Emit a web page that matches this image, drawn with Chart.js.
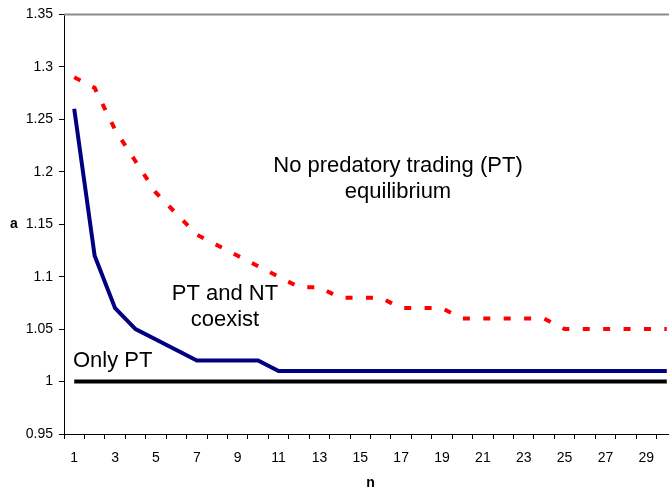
<!DOCTYPE html>
<html>
<head>
<meta charset="utf-8">
<script src="https://cdn.jsdelivr.net/npm/chart.js@4/dist/chart.umd.min.js"></script>
<style>
html, body { margin: 0; padding: 0; background: #fff; overflow: hidden; }
#wrap { width: 679px; height: 504px; }
canvas { display: block; }
</style>
</head>
<body>
<div id="wrap"><canvas id="c" width="679" height="504"></canvas></div>
<script>
// ---- data ----
const categories = [1,2,3,4,5,6,7,8,9,10,11,12,13,14,15,16,17,18,19,20,21,22,23,24,25,26,27,28,29,30];
const noPredatory = [1.29,1.28,1.24,1.21,1.18,1.16,1.14,1.13,1.12,1.11,1.10,1.09,1.09,1.08,1.08,1.08,1.07,1.07,1.07,1.06,1.06,1.06,1.06,1.06,1.05,1.05,1.05,1.05,1.05,1.05];
const coexistBound = [1.26,1.12,1.07,1.05,1.04,1.03,1.02,1.02,1.02,1.02,1.01,1.01,1.01,1.01,1.01,1.01,1.01,1.01,1.01,1.01,1.01,1.01,1.01,1.01,1.01,1.01,1.01,1.01,1.01,1.01];
const onlyPT = [1,1,1,1,1,1,1,1,1,1,1,1,1,1,1,1,1,1,1,1,1,1,1,1,1,1,1,1,1,1];
const yTickLabels = ['0.95','1','1.05','1.1','1.15','1.2','1.25','1.3','1.35'];
const yMin = 0.95, yMax = 1.35, yStep = 0.05;
const xAxisTitle = 'n';
const yAxisTitle = 'a';
const annotations = [
  { lines: ['No predatory trading (PT)', 'equilibrium'], x: 398, y: 172, align: 'center' },
  { lines: ['PT and NT', 'coexist'], x: 225, y: 300, align: 'center' },
  { lines: ['Only PT'], x: 73, y: 367, align: 'left' }
];

const FONT = "'Liberation Sans', Arial, sans-serif";

const extras = {
  id: 'extras',
  afterDraw(chart) {
    const ctx = chart.ctx;
    const a = chart.chartArea;
    ctx.save();
    // plot-area top border
    ctx.strokeStyle = '#8c8c8c';
    ctx.lineWidth = 2;
    ctx.beginPath();
    ctx.moveTo(a.left, a.top);
    ctx.lineTo(a.right, a.top);
    ctx.stroke();
    // y-axis title (horizontal)
    ctx.fillStyle = '#000';
    ctx.font = 'bold 14px ' + FONT;
    ctx.textAlign = 'center';
    ctx.textBaseline = 'middle';
    ctx.fillText(yAxisTitle, 14, (a.top + a.bottom) / 2);
    // region annotations
    ctx.font = '22px ' + FONT;
    ctx.textBaseline = 'alphabetic';
    annotations.forEach(an => {
      ctx.textAlign = an.align;
      an.lines.forEach((t, i) => ctx.fillText(t, an.x, an.y + i * 25.5));
    });
    ctx.restore();
  }
};

new Chart(document.getElementById('c'), {
  type: 'line',
  data: {
    labels: categories,
    datasets: [
      { label: 'Only PT', data: onlyPT, borderColor: '#000000', borderWidth: 4, pointRadius: 0, fill: false, tension: 0 },
      { label: 'PT and NT coexist', data: coexistBound, borderColor: '#000080', borderWidth: 4, pointRadius: 0, fill: false, tension: 0 },
      { label: 'No PT', data: noPredatory, borderColor: '#ff0000', borderWidth: 4, borderDash: [7, 13.4], borderCapStyle: 'butt', pointRadius: 0, fill: false, tension: 0 }
    ]
  },
  options: {
    responsive: false,
    devicePixelRatio: 1,
    animation: false,
    layout: { padding: { top: 9, right: 2, left: 0, bottom: 0 } },
    plugins: { legend: { display: false }, tooltip: { enabled: false } },
    scales: {
      x: {
        type: 'category',
        offset: true,
        grid: { drawOnChartArea: false, drawTicks: true, tickLength: 5, color: '#000', offset: true },
        border: { color: '#000', width: 1 },
        ticks: {
          autoSkip: false, maxRotation: 0, minRotation: 0,
          color: '#000', padding: 11,
          font: { family: FONT, size: 14 },
          callback: (v, i) => (i % 2 === 0 ? String(categories[i]) : '')
        },
        title: { display: true, text: xAxisTitle, color: '#000', font: { family: FONT, size: 14, weight: 'bold' }, padding: { top: 0, bottom: 12 } },
        afterFit(s) { s.height = 70; }
      },
      y: {
        min: yMin, max: yMax,
        grid: { drawOnChartArea: false, drawTicks: true, tickLength: 5, color: '#000' },
        border: { color: '#000', width: 1 },
        ticks: {
          stepSize: yStep, color: '#000', padding: 6,
          font: { family: FONT, size: 14 },
          callback: (v) => {
            const idx = Math.round((v - yMin) / yStep);
            return yTickLabels[idx] !== undefined ? yTickLabels[idx] : '';
          }
        },
        afterFit(s) { s.width = 64; }
      }
    }
  },
  plugins: [extras]
});
</script>
</body>
</html>
